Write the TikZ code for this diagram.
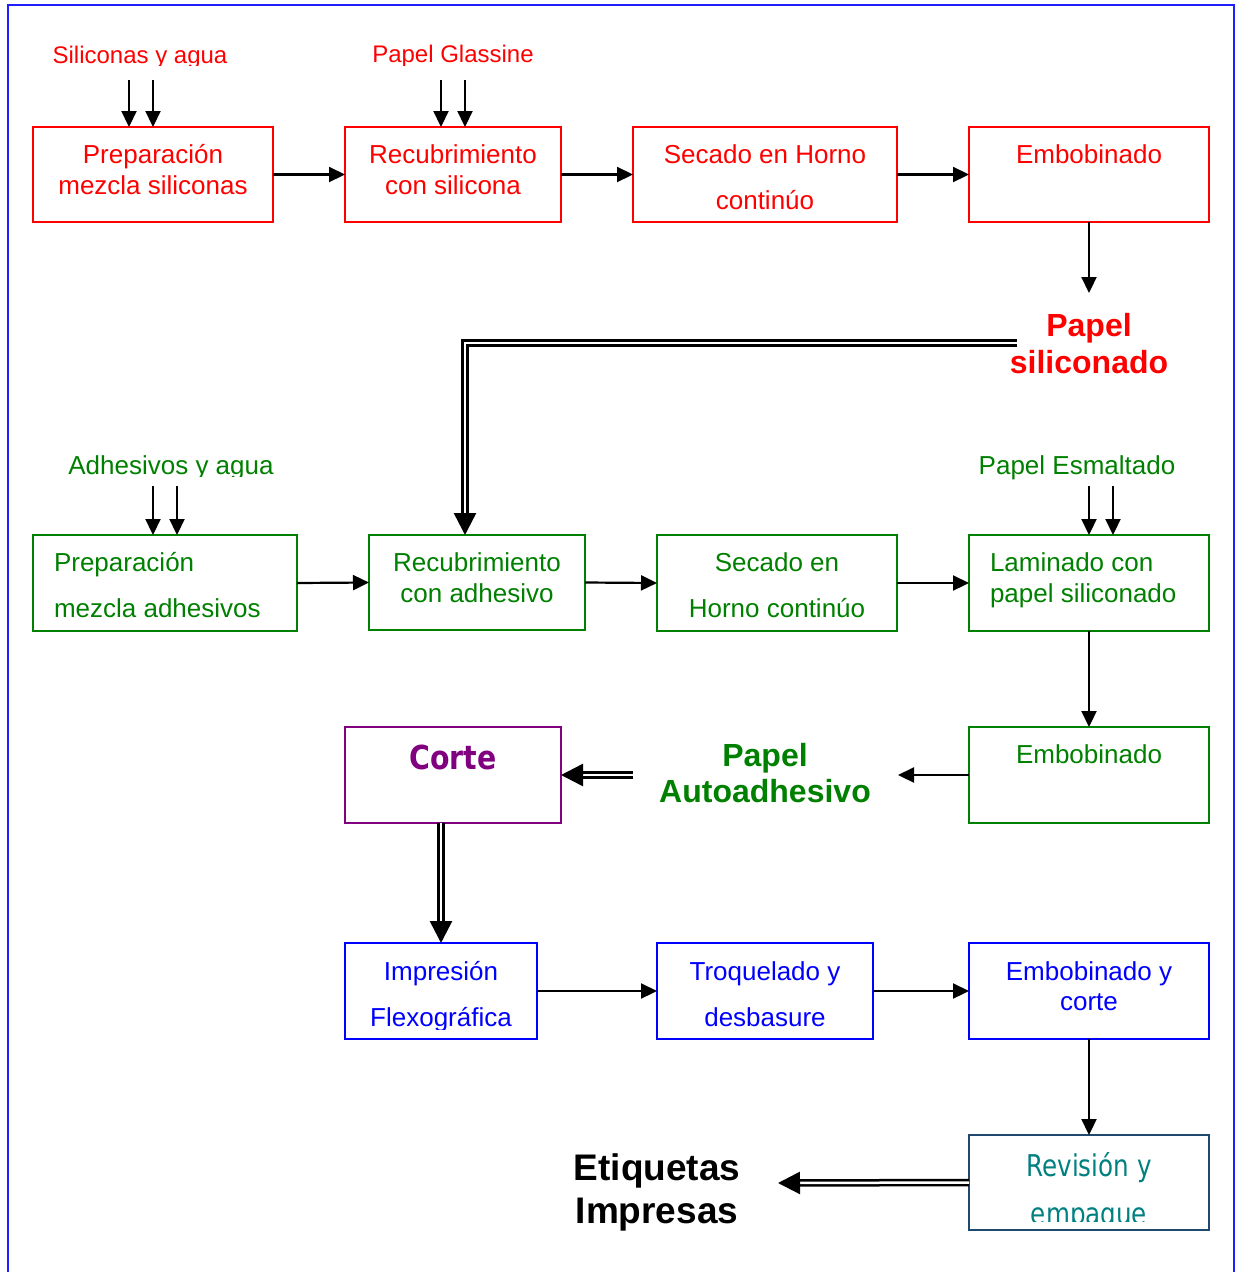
\documentclass[tikz,border=0pt]{standalone}
\usepackage{fontspec}
\setmainfont{Liberation Sans}
\newfontfamily\boldnarrow[FakeStretch=0.86]{DejaVu Sans Bold}
\newfontfamily\softnarrow[FakeStretch=0.82]{DejaVu Sans}
\usetikzlibrary{arrows.meta}

\definecolor{cred}{RGB}{255,0,0}
\definecolor{cgreen}{RGB}{0,128,0}
\definecolor{cblue}{RGB}{0,0,255}
\definecolor{cpurple}{RGB}{128,0,128}
\definecolor{cteal}{RGB}{0,128,128}
\definecolor{cnavy}{RGB}{31,73,110}
\definecolor{cframe}{RGB}{30,30,255}

% two centred / left-aligned lines, baseline at the first line
\newcommand\ctwo[3]{\vtop{\baselineskip=#3\relax\lineskiplimit=-100pt\halign{\hfil##\hfil\cr#1\cr#2\cr}}}
\newcommand\ltwo[3]{\vtop{\baselineskip=#3\relax\lineskiplimit=-100pt\halign{##\hfil\cr#1\cr#2\cr}}}

\begin{document}
\begin{tikzpicture}[x=1pt,y=-1pt,
  every node/.style={inner sep=0pt, outer sep=0pt},
  box/.style 2 args={draw, line width=1.8pt, anchor=north west,
    minimum width=#1, minimum height=#2},
  txt/.style={font=\fontsize{26}{31}\selectfont, anchor=base},
  lbl/.style={font=\fontsize{24}{29}\selectfont, anchor=base},
  big/.style={font=\fontsize{32}{37}\selectfont\bfseries, anchor=base},
  arr/.style={draw=black, line width=2.2pt, -{Triangle[length=16pt,width=15pt]}},
  dbl/.style={draw=black, double=white, double distance=2.5pt, line width=2.5pt,
    -{Triangle[length=22pt,width=22pt]}}]

\useasboundingbox (0,0) rectangle (1237,1272);
\clip (0,0) rectangle (1237,1272);

% outer frame
\draw[cframe, line width=2pt] (8,1300) -- (8,5) -- (1234,5) -- (1234,1300);

% ---------- silicone line ----------
\node[box={240pt}{95pt}, cred] (a1) at (33,127) {};
\node[box={216pt}{95pt}, cred] (a2) at (345,127) {};
\node[box={264pt}{95pt}, cred] (a3) at (633,127) {};
\node[box={240pt}{95pt}, cred] (a4) at (969,127) {};

\node[txt, cred] (a1t) at (153,163) {\ctwo{Preparación}{mezcla siliconas}{31pt}};
\node[txt, cred] (a2t) at (453,163) {\ctwo{Recubrimiento}{con silicona}{31pt}};
\node[txt, cred] (a3t) at (765,163) {\ctwo{Secado en Horno}{continúo}{46pt}};
\node[txt, cred] (a4t) at (1089,163) {Embobinado};

\begin{scope}
  \clip (30,20) rectangle (600,65);
  \node[lbl, cred] (in1) at (140,63) {Siliconas y agua};
  \node[lbl, cred] (in2) at (453,62) {Papel Glassine};
\end{scope}

\draw[arr] ([xshift=-24pt,yshift=47pt]a1.north) -- ([xshift=-24pt]a1.north);
\draw[arr] ([yshift=47pt]a1.north) -- (a1.north);
\draw[arr] ([xshift=-12pt,yshift=47pt]a2.north) -- ([xshift=-12pt]a2.north);
\draw[arr] ([xshift=12pt,yshift=47pt]a2.north) -- ([xshift=12pt]a2.north);

\draw[arr] (a1.east) -- (a2.west);
\draw[arr] (a2.east) -- (a3.west);
\draw[arr] (a3.east) -- (a4.west);

\coordinate (psin) at (1089,293);
\draw[arr] (a4.south) -- (psin);

\node[big, cred] (ps) at (1089,336) {\ctwo{Papel}{siliconado}{37pt}};

% ---------- adhesive line ----------
\node[box={264pt}{96pt}, cgreen] (b1) at (33,535) {};
\node[box={216pt}{95pt}, cgreen] (b2) at (369,535) {};
\node[box={240pt}{96pt}, cgreen] (b3) at (657,535) {};
\node[box={240pt}{96pt}, cgreen] (b4) at (969,535) {};

\node[txt, cgreen, anchor=base west] (b1t) at (54,571) {\ltwo{Preparación}{mezcla adhesivos}{46pt}};
\node[txt, cgreen] (b2t) at (477,571) {\ctwo{Recubrimiento}{con adhesivo}{31pt}};
\node[txt, cgreen] (b3t) at (777,571) {\ctwo{Secado en}{Horno continúo}{46pt}};
\node[txt, cgreen, anchor=base west] (b4t) at (990,571) {\ltwo{Laminado con}{papel siliconado}{31pt}};

\begin{scope}
  \clip (30,430) rectangle (320,476);
  \node[txt, cgreen] (in3) at (171,474) {Adhesivos y agua};
\end{scope}
\node[txt, cgreen] (in4) at (1077,474) {Papel Esmaltado};

\draw[arr] ([xshift=-12pt,yshift=49pt]b1.north) -- ([xshift=-12pt]b1.north);
\draw[arr] ([xshift=12pt,yshift=49pt]b1.north) -- ([xshift=12pt]b1.north);
\draw[arr] ([yshift=49pt]b4.north) -- (b4.north);
\draw[arr] ([xshift=24pt,yshift=49pt]b4.north) -- ([xshift=24pt]b4.north);

\coordinate (psout) at (1017,343);
\draw[dbl] (psout) -| ([xshift=-12pt]b2.north);

\draw[arr] (b1.east) -- (b2.west);
\draw[arr] (b2.east) -- (b3.west);
\draw[arr] (b3.east) -- (b4.west);

\node[box={240pt}{96pt}, cgreen] (c4) at (969,727) {};
\node[txt, cgreen] (c4t) at (1089,763) {Embobinado};
\draw[arr] (b4.south) -- (c4.north);

\node[big, cgreen] (pa) at (765,766) {\ctwo{Papel}{Autoadhesivo}{36pt}};
\coordinate (pain) at (898,775);
\draw[arr] (c4.west |- pain) -- (pain);

% ---------- cutting and printing ----------
\node[box={216pt}{96pt}, cpurple] (corte) at (345,727) {};
\node[anchor=base, cpurple, font=\boldnarrow\fontsize{33}{38}\selectfont] (cortet) at (453,769) {Corte};
\coordinate (paout) at (633,775);
\draw[dbl] (paout) -- (corte.east);

\node[box={192pt}{96pt}, cblue] (d1) at (345,943) {};
\node[box={216pt}{96pt}, cblue] (d2) at (657,943) {};
\node[box={240pt}{96pt}, cblue] (d3) at (969,943) {};

\draw[dbl] (corte.south -| d1.north) -- (d1.north);

\begin{scope}
  \clip (346,944) rectangle (536,1029);
  \node[txt, cblue] (d1t) at (441,980) {\ctwo{Impresión}{Flexográfica}{46pt}};
\end{scope}
\node[txt, cblue] (d2t) at (765,980) {\ctwo{Troquelado y}{desbasure}{46pt}};
\node[txt, cblue] (d3t) at (1089,980) {\ctwo{Embobinado y}{corte}{30pt}};

\draw[arr] (d1.east) -- (d2.west);
\draw[arr] (d2.east) -- (d3.west);

\node[box={240pt}{95pt}, cnavy] (e) at (969,1135) {};
\begin{scope}
  \clip (970,1136) rectangle (1208,1221);
  \node[anchor=base, cteal, font=\softnarrow\fontsize{30}{36}\selectfont] (et) at (1089,1176) {\ctwo{Revisión y}{empaque}{48pt}};
\end{scope}
\draw[arr] (d3.south) -- (e.north);

\node[anchor=base, black, font=\fontsize{37}{43}\selectfont\bfseries] (etq) at (657,1180) {\ctwo{Etiquetas}{Impresas}{43pt}};
\coordinate (etqin) at (778,1183);
\draw[dbl] (e.west) -- (etqin);

\end{tikzpicture}
\end{document}
